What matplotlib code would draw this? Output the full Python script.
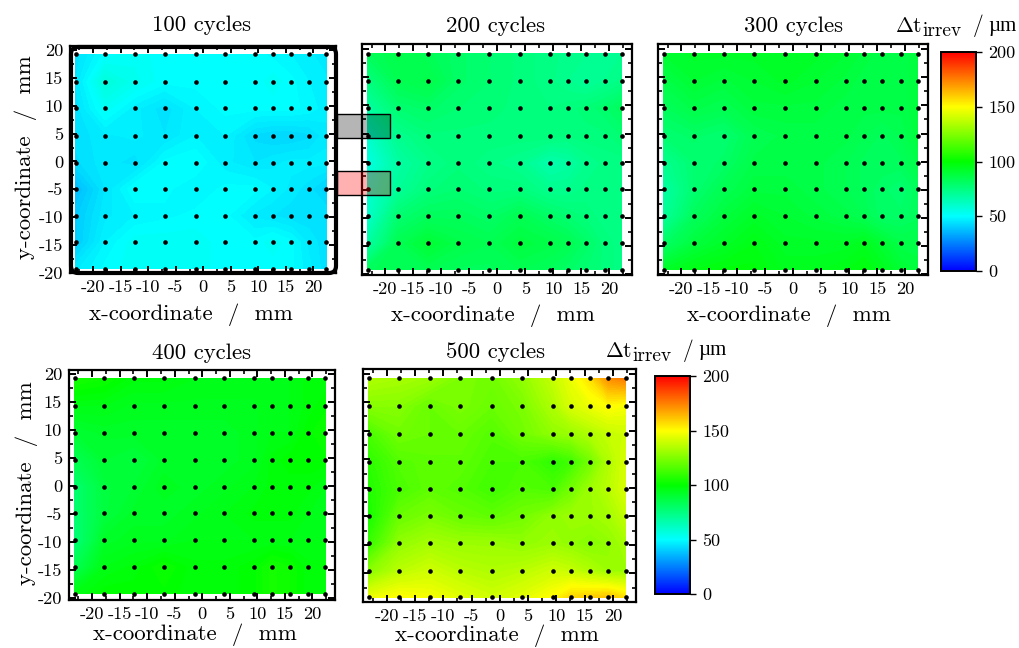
import numpy as np
import matplotlib
matplotlib.use("Agg")
import matplotlib.pyplot as plt
from matplotlib.colors import LinearSegmentedColormap, Normalize
from matplotlib.cm import ScalarMappable
from matplotlib.patches import FancyBboxPatch, Rectangle
from matplotlib.transforms import IdentityTransform

plt.rcParams['font.family'] = ['cmr10', 'DejaVu Sans']
plt.rcParams['mathtext.fontset'] = 'cm'
plt.rcParams['axes.unicode_minus'] = False

x_points = [-23.2, -17.8, -12.4, -7.0, -1.4, 4.0, 9.4, 12.6, 15.9, 19.2, 22.3]
y_points = [19.2, 14.3, 9.5, 4.6, -0.2, -4.9, -9.7, -14.5, -19.2]
tick_values = [-20, -15, -10, -5, 0, 5, 10, 15, 20]
tick_labels = ['-20', '-15', '-10', '-5', '0', '5', '10', '15', '20']
cbar_ticks = [0, 50, 100, 150, 200]
titles = ['100 cycles', '200 cycles', '300 cycles', '400 cycles', '500 cycles']

cycles_100 = [
    [44, 50, 52, 50, 50, 50, 50, 49, 48, 47, 45],
    [45, 57, 53, 50, 50, 50, 50, 52, 50, 48, 47],
    [44, 52, 47, 44, 48, 50, 50, 50, 50, 49, 47],
    [44, 46, 47, 45, 48, 48, 43, 42, 42, 43, 46],
    [43, 46, 44, 50, 51, 47, 45, 46, 47, 47, 47],
    [37, 45, 51, 50, 48, 50, 50, 48, 46, 44, 41],
    [40, 46, 48, 49, 50, 50, 46, 45, 44, 44, 45],
    [40, 48, 52, 52, 52, 50, 50, 52, 50, 46, 44],
    [46, 50, 52, 52, 52, 50, 50, 50, 50, 47, 44],
]
cycles_200 = [
    [82, 86, 83, 80, 78, 76, 74, 73, 72, 72, 72],
    [75, 84, 86, 80, 78, 76, 74, 72, 70, 72, 74],
    [68, 78, 80, 78, 77, 76, 75, 76, 77, 79, 82],
    [60, 72, 76, 76, 76, 76, 76, 75, 76, 76, 78],
    [56, 68, 73, 76, 74, 72, 66, 68, 72, 74, 74],
    [60, 70, 76, 78, 76, 76, 72, 72, 74, 74, 74],
    [60, 78, 82, 82, 80, 84, 80, 78, 76, 74, 74],
    [68, 84, 90, 86, 84, 88, 86, 84, 80, 76, 74],
    [82, 84, 84, 82, 82, 84, 82, 80, 78, 76, 74],
]
cycles_300 = [
    [90, 92, 92, 92, 92, 92, 90, 88, 86, 86, 88],
    [86, 90, 88, 90, 92, 90, 88, 86, 86, 86, 88],
    [82, 86, 84, 88, 88, 88, 86, 86, 86, 86, 88],
    [78, 80, 78, 84, 86, 86, 86, 84, 82, 84, 88],
    [72, 78, 80, 86, 86, 86, 84, 82, 82, 82, 86],
    [68, 78, 84, 88, 88, 86, 84, 82, 80, 78, 82],
    [70, 82, 88, 92, 90, 88, 86, 84, 80, 80, 82],
    [80, 88, 92, 96, 92, 92, 92, 94, 90, 86, 86],
    [92, 96, 98, 98, 94, 94, 96, 98, 94, 90, 88],
]
cycles_400 = [
    [104, 102, 98, 98, 96, 96, 96, 96, 96, 98, 98],
    [96, 96, 94, 94, 94, 94, 94, 96, 96, 98, 100],
    [90, 92, 92, 92, 92, 92, 94, 96, 96, 100, 102],
    [84, 90, 88, 92, 92, 92, 94, 98, 100, 100, 100],
    [78, 88, 90, 94, 92, 94, 96, 98, 98, 98, 96],
    [78, 88, 92, 92, 94, 96, 98, 98, 98, 96, 96],
    [76, 92, 94, 94, 96, 96, 96, 96, 96, 96, 96],
    [84, 96, 98, 102, 98, 98, 100, 104, 102, 98, 98],
    [96, 100, 100, 100, 98, 98, 100, 104, 102, 98, 98],
]
cycles_500 = [
    [134, 132, 130, 124, 122, 128, 138, 146, 156, 172, 176],
    [126, 126, 120, 124, 120, 124, 134, 142, 146, 150, 148],
    [114, 122, 120, 120, 116, 122, 128, 130, 134, 138, 140],
    [108, 116, 118, 118, 114, 114, 108, 112, 122, 134, 142],
    [106, 114, 118, 116, 112, 116, 114, 122, 130, 136, 142],
    [104, 120, 124, 120, 118, 122, 128, 130, 130, 132, 138],
    [110, 128, 132, 130, 130, 128, 130, 128, 126, 128, 132],
    [126, 136, 140, 136, 134, 136, 140, 138, 134, 130, 130],
    [146, 150, 148, 144, 140, 144, 150, 158, 160, 162, 156],
]
fields = [cycles_100, cycles_200, cycles_300, cycles_400, cycles_500]

W, H = 1019, 648
fig = plt.figure(figsize=(W / 100, H / 100), dpi=100)


def box(left, top, right, bottom):
    return [left / W, 1 - bottom / H, (right - left) / W, (bottom - top) / H]


cmap = LinearSegmentedColormap.from_list(
    'cycle', [(0, '#0000ff'), (0.25, '#00ffff'), (0.5, '#00ff00'), (0.75, '#ffff00'), (1, '#ff0000')], N=512)
norm = Normalize(0, 200)
levels = np.arange(0, 201, 1.5)

boxes = [(70, 46, 336, 273), (362, 44, 632, 275), (658, 44, 928, 275),
         (69, 370, 335, 600), (363, 369, 636, 602)]
y_limits = [(-20.0, 20.7), (-20.1, 20.9), (-20.1, 20.9), (-20.36, 20.7), (-19.9, 20.8)]
y_labelled = [True, False, False, True, False]
title_pads = [10.5, 8.5, 8.5, 8, 8]
title_shift = [-2, -2, 0, -1, -4]
xlabel_pads = [6, 5, 5, 1, 0]
xlabel_shift = [-12, -4, -4, -7, -3]
ylabel_pads = [1, 0, 0, -0.5, 0]
X, Y = np.meshgrid(x_points, y_points)

for i, (title, data, b) in enumerate(zip(titles, fields, boxes)):
    ax = fig.add_axes(box(*b))
    width = b[2] - b[0]
    ax.contourf(X, Y, np.array(data, float), levels=levels, cmap=cmap, norm=norm)
    ax.scatter(X.ravel(), Y.ravel(), s=11, c='black', linewidths=0, zorder=3)
    ax.set_xlim(-24.2, 24.1)
    ax.set_ylim(*y_limits[i])
    ax.set_xticks(tick_values, tick_labels)
    ax.set_yticks(tick_values, tick_labels if y_labelled[i] else [])
    ax.set_xticks(np.arange(-22.5, 23, 5), minor=True)
    ax.set_yticks(np.arange(-17.5, 18, 5), minor=True)
    ax.tick_params(which='major', direction='in', top=True, right=True, length=5, width=1.4,
                   labelsize=13.2, pad=5)
    ax.tick_params(which='minor', direction='in', top=True, right=True, length=3, width=1.2)
    for s in ax.spines.values():
        s.set_linewidth(1.6)
    ax.set_title(title, fontsize=16.4, pad=title_pads[i], x=0.5 + title_shift[i] / width)
    ax.set_xlabel('x-coordinate  /  mm', fontsize=16.5, labelpad=xlabel_pads[i],
                  x=0.5 + xlabel_shift[i] / width)
    if y_labelled[i]:
        ax.set_ylabel('y-coordinate  /  mm', fontsize=16.5, labelpad=ylabel_pads[i], y=0.51)

for (l, t, r, bt), (tx, ty) in zip([(941, 52, 976, 271), (655, 376, 690, 594)], [(922, 26), (632, 351)]):
    cax = fig.add_axes(box(l, t, r, bt))
    cb = fig.colorbar(ScalarMappable(norm=norm, cmap=cmap), cax=cax, ticks=cbar_ticks)
    cb.ax.set_yticklabels([str(v) for v in cbar_ticks])
    cb.ax.tick_params(labelsize=13, length=4, width=1, pad=5, direction='out')
    cb.outline.set_linewidth(1.4)
    fig.text(tx / W, 1 - ty / H, r'$\Delta\mathrm{t}$', fontsize=15.5, ha='right', va='center')
    fig.text((tx + 0.5) / W, 1 - (ty + 5) / H, 'irrev', fontsize=14, ha='left', va='center')
    fig.text((tx + 56) / W, 1 - ty / H, '/', fontsize=15.5, ha='center', va='center')
    fig.text((tx + 66) / W, 1 - ty / H, 'µm', fontsize=15, family='Liberation Serif',
             ha='left', va='center')

# Highlight frame and the two connecting markers
tr = IdentityTransform()
fig.add_artist(FancyBboxPatch((71, H - 273), 265, 226,
                              boxstyle='round,pad=0,rounding_size=7', transform=tr,
                              fill=False, edgecolor='black', linewidth=3.0, zorder=5))
for color, top in [((0, 0, 0, 0.29), 114), ((1, 0, 0, 0.31), 171)]:
    fig.add_artist(Rectangle((337, H - top - 24), 53, 24, transform=tr,
                             facecolor=color, edgecolor='none', zorder=4))
    fig.add_artist(Rectangle((337, H - top - 24), 53, 24, transform=tr,
                             fill=False, edgecolor='black', linewidth=1.0, zorder=4.5))

fig.savefig('out.png', dpi=100)
